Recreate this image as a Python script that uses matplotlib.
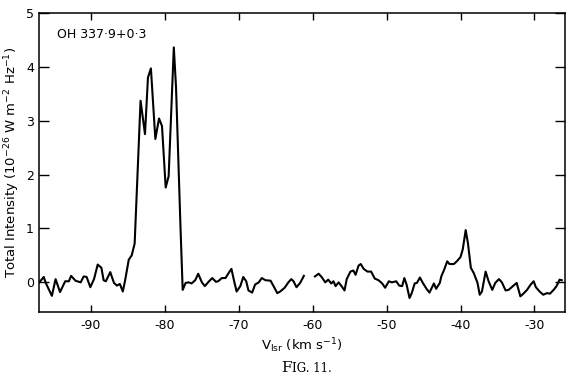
import numpy as np
import matplotlib
matplotlib.use("Agg")
import matplotlib.pyplot as plt

# spectrum (km/s, 10^-26 W m^-2 Hz^-1); nan = gap in the trace
vlsr = [-97.0, -96.4, -96.1, -95.3, -94.8, -94.2, -93.5, -93.0, -92.7, -92.1,
        -91.4, -91.0, -90.6, -90.1, -89.6, -89.1, -88.6, -88.3, -88.0, -87.4,
        -86.9, -86.5, -86.1, -85.7, -85.4, -84.9, -84.5, -84.1, -83.8, -83.3,
        -82.7, -82.3, -81.9, -81.3, -80.8, -80.4, -79.9, -79.5, -78.8, -78.5,
        -77.9, -77.6, -77.2, -76.8, -76.4, -75.9, -75.5, -75.0, -74.6, -74.1,
        -73.6, -73.1, -72.8, -72.3, -71.8, -71.4, -71.0, -70.7, -70.3, -69.8,
        -69.4, -69.0, -68.7, -68.2, -67.8, -67.3, -66.9, -66.4, -65.7, -65.3,
        -64.8, -64.4, -63.8, -63.3, -62.9, -62.6, -62.2, -61.7, -61.2, -60.5,
        -59.7, -59.2, -58.8, -58.3, -57.9, -57.5, -57.2, -56.9, -56.5, -56.1,
        -55.7, -55.4, -54.9, -54.5, -54.2, -53.8, -53.5, -53.1, -52.6, -52.1,
        -51.6, -51.1, -50.6, -50.2, -49.7, -49.3, -48.7, -48.3, -47.9, -47.6,
        -47.3, -46.9, -46.6, -46.2, -45.9, -45.5, -45.1, -44.6, -44.2, -43.6,
        -43.3, -42.8, -42.6, -42.2, -41.8, -41.5, -40.9, -40.5, -40.0, -39.7,
        -39.3, -39.0, -38.6, -38.2, -37.7, -37.4, -37.1, -36.6, -36.2, -35.7,
        -35.3, -34.8, -34.4, -33.9, -33.5, -32.9, -32.4, -31.9, -31.5, -31.0,
        -30.5, -30.1, -29.8, -29.3, -28.8, -28.3, -27.9, -27.4, -27.0, -26.6,
        -26.3]
intensity = [0.00, 0.10, -0.02, -0.25, 0.06, -0.18, 0.02, 0.02, 0.12, 0.03,
             0.00, 0.11, 0.10, -0.09, 0.06, 0.33, 0.27, 0.04, 0.02, 0.19,
             -0.01, -0.06, -0.03, -0.17, 0.03, 0.42, 0.50, 0.72, 1.73, 3.37,
             2.75, 3.80, 3.97, 2.66, 3.04, 2.90, 1.76, 1.97, 4.36, 3.62,
             1.04, -0.14, -0.01, 0.00, -0.02, 0.04, 0.16, 0.00, -0.07, 0.01,
             0.08, 0.01, 0.02, 0.08, 0.08, 0.17, 0.25, 0.06, -0.17, -0.07,
             0.10, 0.02, -0.15, -0.19, -0.04, 0.00, 0.08, 0.04, 0.03, -0.07,
             -0.20, -0.17, -0.10, 0.00, 0.06, 0.02, -0.09, -0.01, 0.12, np.nan,
             0.11, 0.16, 0.10, 0.00, 0.05, -0.02, 0.02, -0.07, 0.00, -0.07,
             -0.15, 0.06, 0.20, 0.22, 0.14, 0.31, 0.34, 0.25, 0.20, 0.20,
             0.07, 0.04, -0.02, -0.10, 0.02, 0.00, 0.02, -0.06, -0.07, 0.08,
             -0.04, -0.29, -0.20, -0.02, -0.01, 0.09, -0.01, -0.12, -0.19, -0.02,
             -0.12, -0.01, 0.11, 0.24, 0.39, 0.34, 0.34, 0.39, 0.47, 0.61,
             0.97, 0.73, 0.27, 0.17, -0.01, -0.23, -0.17, 0.20, 0.02, -0.14,
             -0.01, 0.06, 0.00, -0.15, -0.14, -0.07, -0.01, -0.26, -0.21, -0.14,
             -0.04, 0.02, -0.09, -0.17, -0.23, -0.20, -0.21, -0.14, -0.07, 0.05,
             0.04]

xticks = [-90, -80, -70, -60, -50, -40, -30]
yticks = [0, 1, 2, 3, 4, 5]
source_name = "OH 337·9+0·3"

plt.rcParams['axes.unicode_minus'] = False

fig = plt.figure(figsize=(5.7, 3.9), dpi=100)
ax = fig.add_axes([0.069, 0.2, 0.923, 0.767])
ax.plot(vlsr, intensity, color="black", lw=1.5)

ax.set_xlim(-97, -25.8)
ax.set_ylim(-0.55, 5)
ax.set_xticks(xticks)
ax.set_yticks(yticks)
ax.tick_params(direction="in", top=True, right=True, labelsize=9,
               width=1.0, color="black")
ax.tick_params(axis="y", length=7, pad=4)
ax.tick_params(axis="x", length=5, pad=5)
for sp in ax.spines.values():
    sp.set_linewidth(1.1)

ax.text(0.034, 0.927, source_name, transform=ax.transAxes, fontsize=9,
        va="center", ha="left")
ax.set_ylabel("Total Intensity (10$^{-26}$ W m$^{-2}$ Hz$^{-1}$)", fontsize=9.5,
              labelpad=3)
ax.set_xlabel(r"V$_{\mathrm{lsr}}$ (km s$^{-1}$)", fontsize=9.5, labelpad=3)

# caption in small caps style
cap = fig.text(0.512, 0.045, "F", fontsize=11, family="DejaVu Serif",
               ha="right", va="baseline")
fig.text(0.512, 0.045, "IG. 11.", fontsize=8.5, family="DejaVu Serif",
         ha="left", va="baseline")

fig.savefig("out.png", dpi=100)
